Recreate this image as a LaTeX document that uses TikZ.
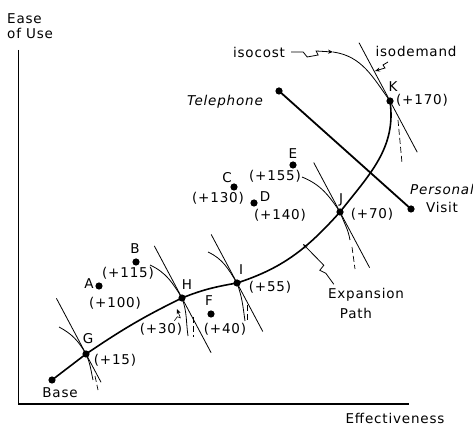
\documentclass[tikz,border=0pt]{standalone}
\usepackage{fontspec}
\setmainfont{DejaVu Sans}[LetterSpace=6]
\usetikzlibrary{arrows.meta,calc}

\begin{document}
\begin{tikzpicture}[x=1pt, y=1pt,
  lbl/.style={font=\fontsize{13.5}{15}\selectfont, inner sep=0pt, align=center},
  axis/.style={line width=1.8pt},
  xpath/.style={line width=1.6pt},
  tang/.style={line width=0.8pt},
  ghost/.style={line width=0.7pt, dash pattern=on 6pt off 3pt},
  lead/.style={line width=0.8pt, -{Stealth[length=5pt,width=4pt]}}
]
  \useasboundingbox (0,0) rectangle (473,425);

  % Axes
  \coordinate (ytop) at (18.5,375);
  \coordinate (origin) at (18.5,21);
  \coordinate (xend) at (409,21);
  \draw[axis] (ytop) -- (origin) -- (xend);
  \node[lbl, align=left, anchor=west] (yname) at (7,399) {Ease\\of Use};
  \node[lbl] (xname) at (395,7) {Effectiveness};

  % Points on the expansion path
  \coordinate (base) at (52,45);
  \coordinate (G) at (86,71);
  \coordinate (H) at (182,127);
  \coordinate (I) at (237,142);
  \coordinate (J) at (340,213);
  \coordinate (K) at (390,324);

  % Other alternatives
  \coordinate (A) at (99,139);
  \coordinate (B) at (136,163);
  \coordinate (C) at (234,238);
  \coordinate (D) at (254,222);
  \coordinate (E) at (293,260);
  \coordinate (F) at (211,111);
  \coordinate (tel) at (279,334);
  \coordinate (visit) at (411,216);

  % Expansion path
  \draw[xpath] (base) -- (G) to[out=34,in=206] (H) to[out=22,in=190] (I)
    to[out=18,in=228] (J) to[out=52,in=-82] (K);

  % Telephone -- personal visit
  \draw[line width=1.8pt] (tel) -- (visit);

  % Isodemand lines, isocost arcs and dashed traces
  \draw[tang] (G) ++(118:63) -- ++(-62:95);
  \draw[tang] (G) ++(-27,27) to[out=-28,in=120] (G) to[out=-66,in=102] ++(7,-26);
  \draw[ghost] (G) ++(9,-22) -- ++(3,-14);

  \draw[tang] (H) ++(118:59) -- ++(-62:121);
  \draw[tang] (H) ++(-32,33) to[out=-25,in=122] (H) to[out=-70,in=98] ++(6,-38);
  \draw[ghost] (H) ++(11,-19) -- ++(0,-20);

  \draw[tang] (I) ++(118:55) -- ++(-62:110);
  \draw[tang] (I) ++(-29,31) to[out=-25,in=122] (I) to[out=-70,in=98] ++(8,-38);
  \draw[ghost] (I) ++(10,-22) -- ++(0,-16);

  \draw[tang] (J) ++(118:56) -- ++(-62:119);
  \draw[tang] (J) ++(-38,35) to[out=-22,in=124] (J) to[out=-70,in=100] ++(10,-28);
  \draw[ghost] (J) ++(12,-35) -- ++(3,-22);

  \draw[tang] (K) ++(118:66) -- ++(-62:124);
  \coordinate (costK) at (333,373);
  \draw[tang] (costK) to[out=-8,in=126] (K);
  \draw[ghost] (K) ++(8,-19) -- ++(4,-43);

  % Dots
  \foreach \p in {base,G,H,I,J,K,A,B,C,D,E,F,tel,visit}
    \fill (\p) circle[radius=3.6];

  % Labels
  \node[lbl] (base-lbl) at (60,32) {Base};
  \node[lbl] (G-lbl) at (88,86) {G};
  \node[lbl] (G-val) at (115,65) {(+15)};
  \node[lbl] (A-lbl) at (89,141) {A};
  \node[lbl] (A-val) at (115,122) {(+100)};
  \node[lbl] (B-lbl) at (135,176) {B};
  \node[lbl] (B-val) at (128,152) {(+115)};
  \node[lbl] (H-lbl) at (187,140) {H};
  \node[lbl] (H-val) at (161,96) {(+30)};
  \node[lbl] (F-lbl) at (209,124) {F};
  \node[lbl] (F-val) at (225,96) {(+40)};
  \node[lbl] (I-lbl) at (241,155) {I};
  \node[lbl] (I-val) at (270,138) {(+55)};
  \node[lbl] (C-lbl) at (227,247) {C};
  \node[lbl] (C-val) at (218,227) {(+130)};
  \node[lbl] (D-lbl) at (265,228) {D};
  \node[lbl] (D-val) at (280,210) {(+140)};
  \node[lbl] (E-lbl) at (293,271) {E};
  \node[lbl] (E-val) at (275,249) {(+155)};
  \node[lbl] (J-lbl) at (341,225) {J};
  \node[lbl] (J-val) at (372,211) {(+70)};
  \node[lbl] (K-lbl) at (393,338) {K};
  \node[lbl] (K-val) at (422,325) {(+170)};
  \node[lbl, font=\fontsize{13.5}{15}\selectfont\itshape] (tel-lbl) at (225,323) {Telephone};
  \node[lbl, font=\fontsize{13.5}{15}\selectfont\itshape] (visit-lbl1) at (442,236) {Personal};
  \node[lbl] (visit-lbl2) at (442,218) {Visit};
  \node[lbl] (exp-lbl) at (366,130) {Expansion};
  \node[lbl] (path-lbl) at (356,112) {Path};
  \node[lbl] (cost-lbl) at (259,373) {isocost};
  \node[lbl] (demand-lbl) at (416,374) {isodemand};

  % Leaders
  \draw[lead] (cost-lbl.east) ++(6,0) -- ++(12,0) -- ++(4,-5) -- ++(11,2) -- ++(-2,4) -- (costK);
  \coordinate (demandK) at (375,354);
  \draw[lead] (388,363) -- ++(-5,-3) -- ++(2,-3) -- (demandK);
  \coordinate (expK) at (303,181);
  \draw[lead] (exp-lbl.north west) ++(6,4) -- ++(-8,11) -- ++(-6,3) -- ++(4,5) -- (expK);
  \coordinate (Hmark) at (177,116);
  \draw[lead, line width=0.6pt] (H-val.north east) ++(-8,2) -- ++(3,4) -- ++(3,-1) -- (Hmark);
\end{tikzpicture}
\end{document}
